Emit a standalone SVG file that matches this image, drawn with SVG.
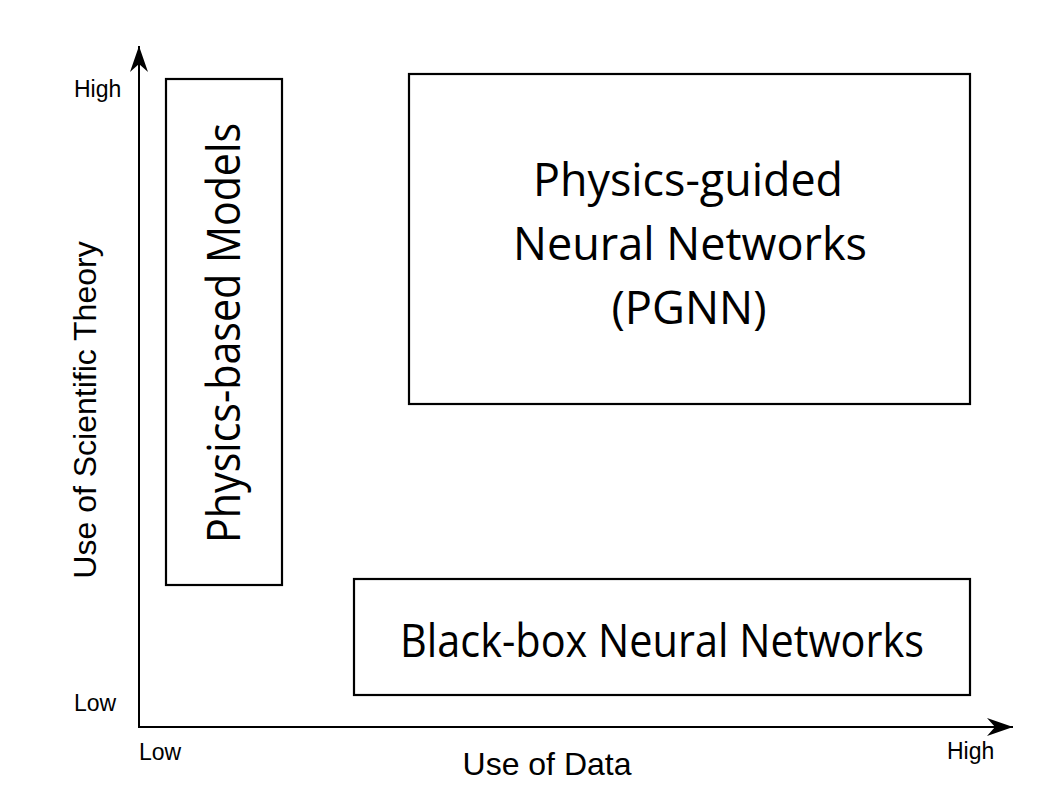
<svg xmlns="http://www.w3.org/2000/svg" width="1052" height="796" viewBox="0 0 1052 796">
<style>
.box{fill:#fff;stroke:#000;stroke-width:2.2}
.axis{fill:none;stroke:#000;stroke-width:2}
.lbl{font-family:"Liberation Sans",Arial,sans-serif;fill:#000}
.big{font-family:"Open Sans","Noto Sans",sans-serif;font-size:45px;fill:#000;text-anchor:middle}
</style>
<defs>
<marker id="arr" viewBox="0 0 26 18" refX="26" refY="9" markerWidth="26" markerHeight="18" markerUnits="userSpaceOnUse" orient="auto">
<path d="M26,9 L0,0 L8,9 L0,18 Z" fill="#000"/>
</marker>
</defs>
<rect width="1052" height="796" fill="#fff"/>
<g id="connectors">
<line class="axis" x1="139" y1="727" x2="139" y2="46" marker-end="url(#arr)"/>
<line class="axis" x1="138" y1="727" x2="1013" y2="727" marker-end="url(#arr)"/>
</g>
<g id="physics-based">
<rect class="box" x="166" y="79" width="116" height="506"/>
<text class="big" transform="translate(240,333) rotate(-90)" x="0" y="0" textLength="420" lengthAdjust="spacingAndGlyphs">Physics-based Models</text>
</g>
<g id="pgnn">
<rect class="box" x="409" y="74" width="561" height="330"/>
<text class="big" x="688" y="196" textLength="310" lengthAdjust="spacingAndGlyphs">Physics-guided</text>
<text class="big" x="690" y="260" textLength="354" lengthAdjust="spacingAndGlyphs">Neural Networks</text>
<text class="big" x="689" y="324" textLength="155" lengthAdjust="spacingAndGlyphs">(PGNN)</text>
</g>
<g id="blackbox">
<rect class="box" x="354" y="579" width="616" height="116"/>
<text class="big" x="662" y="657" textLength="524" lengthAdjust="spacingAndGlyphs">Black-box Neural Networks</text>
</g>
<g id="axis-labels">
<text class="lbl" x="74" y="97" font-size="23">High</text>
<text class="lbl" x="74" y="711" font-size="23">Low</text>
<text class="lbl" x="139" y="760" font-size="23">Low</text>
<text class="lbl" x="947" y="759" font-size="23">High</text>
<text class="lbl" x="547" y="775" font-size="32" text-anchor="middle">Use of Data</text>
<text class="lbl" transform="translate(96,410) rotate(-90)" font-size="32" text-anchor="middle">Use of Scientific Theory</text>
</g>
</svg>
